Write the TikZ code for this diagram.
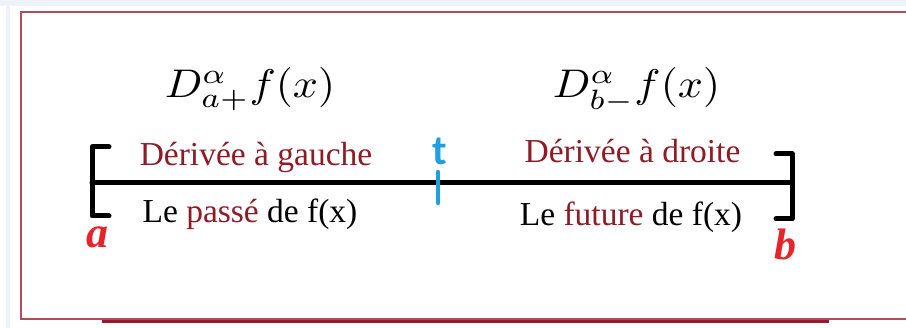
\documentclass[tikz,border=0pt]{standalone}
\usepackage[no-math]{fontspec}
\setmainfont{Liberation Serif}
\newfontfamily\tfont{Carlito}
\definecolor{bgblue}{HTML}{EEF2F9}
\definecolor{framered}{HTML}{B24C5C}
\definecolor{barred}{HTML}{9A1830}
\definecolor{textred}{HTML}{8E1B26}
\definecolor{endred}{HTML}{E8232A}
\definecolor{tblue}{HTML}{1E9FE0}
\begin{document}
\begin{tikzpicture}[x=1pt,y=-1pt,
  bar/.style={line width=5pt, line cap=round, line join=round},
  txt/.style={inner sep=0pt, anchor=base, font=\fontsize{33.5}{40}\selectfont},
  mth/.style={inner sep=0pt, anchor=base},
  endlab/.style={inner sep=0pt, anchor=base, text=endred, font=\fontsize{44}{52}\selectfont\bfseries\itshape},
  tlab/.style={inner sep=0pt, anchor=base, text=tblue, font=\fontsize{42}{50}\selectfont\tfont\bfseries}]
\useasboundingbox (0,0) rectangle (906,328);
% background
\fill[bgblue] (0,0) rectangle (906,328);
\fill[white] (0,6.5) rectangle (906,328);
\fill[bgblue] (6,6.5) rectangle (9.5,328);
% frame
\draw[framered, line width=2pt] (906,12) -- (21,12) -- (21,319) -- (906,319);
\draw[barred, line width=3pt] (102,321.5) -- (829,321.5);
% axis
\coordinate (A) at (92,183);
\coordinate (B) at (792,183);
\coordinate (Atop) at (92,147);
\coordinate (Abot) at (92,216);
\coordinate (Atopend) at (109,147);
\coordinate (Abotend) at (109,216);
\coordinate (Btop) at (792,154);
\coordinate (Bbot) at (792,219);
\coordinate (Btopend) at (776,154);
\coordinate (Bbotend) at (776,219);
\draw[bar] (A) -- (B);
\draw[bar] (Atopend) -- (Atop) -- (Abot) -- (Abotend);
\draw[bar] (Btopend) -- (Btop) -- (Bbot) -- (Bbotend);
% t tick
\coordinate (T1) at (438,172);
\coordinate (T2) at (438,203);
\draw[tblue, line width=4.5pt, line cap=round] (T1) -- (T2);
\node[tlab] (t) at (440,165) {t};
% formulas
\node[mth] (m1) at (250,98) {\scalebox{4.4}[4]{$D^{\alpha}_{a+}f(x)$}};
\node[mth] (m2) at (636.5,98) {\scalebox{4.4}[4]{$D^{\alpha}_{b-}f(x)$}};
% labels
\node[txt, text=textred] (dg) at (256,166) {Dérivée à gauche};
\node[txt] (pg) at (250,223) {Le \textcolor{textred}{passé} de f(x)};
\node[txt, text=textred] (dd) at (632.5,163) {Dérivée à droite};
\node[txt] (fd) at (631,226) {Le \textcolor{textred}{future} de f(x)};
% endpoints
\node[endlab] (a) at (97,248) {a};
\node[endlab] (b) at (785,260) {b};
\end{tikzpicture}
\end{document}
